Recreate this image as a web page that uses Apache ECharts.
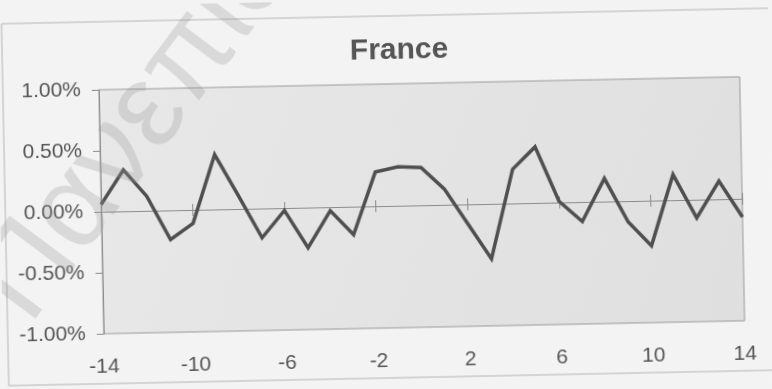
<!DOCTYPE html>
<html>
<head>
<meta charset="utf-8">
<script src="https://cdn.jsdelivr.net/npm/echarts@6/dist/echarts.min.js"></script>
<style>
  html, body { margin: 0; padding: 0; background: #f3f3f3; overflow: hidden; }
  #chart { width: 772px; height: 389px; transform: rotate(-1.16deg); transform-origin: 50% 50%; }
</style>
</head>
<body>
<div id="chart"></div>
<script>
// Months around the event (x) and France's return in percent (y)
const periods = ['-14','-13','-12','-11','-10','-9','-8','-7','-6','-5','-4','-3','-2','-1',
                 '0','1','2','3','4','5','6','7','8','9','10','11','12','13','14'];
const franceReturns = [0.06, 0.34, 0.12, -0.24, -0.11, 0.45, 0.11, -0.24, -0.02, -0.33, -0.03, -0.23, 0.28, 0.32,
                       0.31, 0.13, -0.16, -0.45, 0.28, 0.46, 0.01, -0.16, 0.19, -0.17, -0.37, 0.21, -0.15, 0.15, -0.15];
const yTicks = { min: -1, max: 1, step: 0.5 };
const chartTitle = 'France';
const stampText = 'Πανεπιστήμιο';

const FONT = 'Liberation Sans';
const TEXT = '#555555';
const AXIS = '#8c8c8c';

const chart = echarts.init(document.getElementById('chart'), null, { renderer: 'canvas' });

// Horizontal line through 0 % with short ticks crossing it (one axis ticks down, the other up)
const zeroAxis = (inside, yIndex) => ({
  type: 'category',
  data: periods,
  boundaryGap: false,
  position: 'bottom',
  axisLine: { show: true, onZero: true, onZeroAxisIndex: yIndex, lineStyle: { color: AXIS, width: 1 } },
  axisTick: { show: true, inside: inside, length: 6, interval: 3, lineStyle: { color: AXIS } },
  axisLabel: { show: false },
  splitLine: { show: false }
});

const valueAxis = (visible) => ({
  type: 'value',
  show: visible,
  position: 'left',
  min: yTicks.min, max: yTicks.max, interval: yTicks.step,
  axisLine: { show: true, lineStyle: { color: AXIS } },
  axisTick: { show: true, length: 7, lineStyle: { color: AXIS } },
  axisLabel: {
    margin: 18, fontFamily: FONT, fontSize: 21, color: TEXT,
    formatter: v => v.toFixed(2) + '%'
  },
  splitLine: { show: false }
});

chart.setOption({
  backgroundColor: '#f3f3f3',
  animation: false,
  title: {
    text: chartTitle,
    left: 397, top: 31, textAlign: 'center',
    textStyle: { fontFamily: FONT, fontSize: 30, fontWeight: 'bold', color: TEXT }
  },
  graphic: [
    {
      type: 'rect', z: -1, silent: true,
      shape: { x: 5, y: 16, width: 800, height: 362 },
      style: { fill: 'none', stroke: '#b4b4b4', lineWidth: 1 }
    },
    {
      type: 'text', z: 100, silent: true,
      x: 1, y: 299, rotation: 52 * Math.PI / 180,
      style: {
        text: stampText, fontFamily: FONT, fontSize: 120,
        fill: 'rgba(150,150,150,0.28)', textAlign: 'left', textVerticalAlign: 'middle'
      }
    }
  ],
  grid: {
    left: 101, right: 30, top: 84, bottom: 61,
    show: true,
    borderColor: '#9a9a9a', borderWidth: 1,
    backgroundColor: {
      type: 'linear', x: 0, y: 0, x2: 1, y2: 1,
      colorStops: [{ offset: 0, color: '#e8e8e8' }, { offset: 1, color: '#dfdfdf' }]
    }
  },
  xAxis: [
    {
      type: 'category',
      data: periods,
      boundaryGap: false,
      position: 'bottom',
      axisLine: { show: false, onZero: false },
      axisTick: { show: false },
      axisLabel: { interval: 3, margin: 23, fontFamily: FONT, fontSize: 21, color: TEXT },
      splitLine: { show: false }
    },
    zeroAxis(false, 0),
    zeroAxis(true, 1)
  ],
  yAxis: [valueAxis(true), valueAxis(false)],
  series: [{
    type: 'line',
    xAxisIndex: 0,
    yAxisIndex: 0,
    data: franceReturns,
    symbol: 'none',
    lineStyle: { color: '#4f4f4f', width: 3.5, join: 'miter' },
    z: 5
  }]
});
</script>
</body>
</html>
